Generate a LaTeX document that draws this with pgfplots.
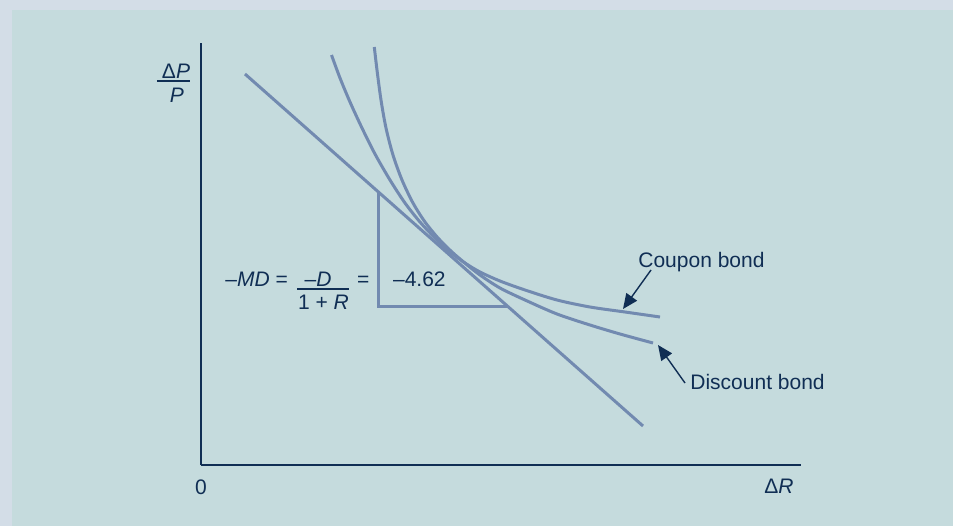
\documentclass[border=0pt]{standalone}
\usepackage{pgfplots}
\pgfplotsset{compat=1.18}
\usepackage{fontspec}
\setmainfont{Liberation Sans}
\usetikzlibrary{arrows.meta}
\definecolor{outerbg}{RGB}{211,221,231}
\definecolor{panel}{RGB}{197,219,221}
\definecolor{navy}{RGB}{16,46,84}
\definecolor{curve}{RGB}{114,138,176}
\tikzset{lbl/.style={font=\fontsize{10.5}{12}\selectfont, text=navy, inner sep=0pt}}

\begin{document}
\begin{tikzpicture}
  % background panels (1 px = 0.5pt, axis origin at px (201,465))
  \fill[outerbg] (-100.5pt,-30.5pt) rectangle (376pt,232.5pt);
  \fill[panel] (-94.5pt,-30.5pt) rectangle (376pt,227.5pt);
  \begin{axis}[
      x=0.5pt, y=0.5pt,
      xmin=0, xmax=600, ymin=0, ymax=422,
      enlargelimits=false,
      axis lines*=left,
      axis line style={navy, line width=0.9pt},
      xtick=\empty, ytick=\empty,
      clip=false,
    ]
    % tangent line
    \addplot[curve, line width=1.5pt] coordinates {(44,391) (442,39)};
    % coupon bond
    \addplot[curve, line width=1.5pt, smooth] coordinates {
      (130.5,410) (139,387) (149,363) (161,337) (174,311) (189,285)
      (204,262) (219,243) (234,227) (249,213) (264,202) (279,193)
      (299,184) (324,175) (356,165) (389,158) (424,153) (459,148)};
    % discount bond
    \addplot[curve, line width=1.5pt, smooth] coordinates {
      (173.3,418) (176,395) (180,365) (185,337) (192,310) (201,285)
      (212,262) (224,243) (237,227) (251,213) (265,201) (279,190)
      (299,177) (324,165) (356,151) (389,140) (419,131) (452,122)};
    % slope triangle
    \addplot[curve, line width=1.5pt] coordinates {(177,272) (177,159) (306,159)};

    % axis labels
    \node[lbl, anchor=base] at (0,-29) {0};
    \node[lbl, anchor=base] at (578,-28.3) {Δ\textit{R}};
    \node[lbl, anchor=base] at (-25,386.3) {Δ\textit{P}};
    \draw[navy, line width=1pt] (-44,383.7) -- (-11,383.7);
    \node[lbl, anchor=base] at (-24,362.7) {\textit{P}};

    % formula
    \node[lbl, anchor=base west] at (24,179) {–\textit{MD} =};
    \node[lbl, anchor=base] at (117,179) {–\textit{D}};
    \draw[navy, line width=0.9pt] (96,175.7) -- (148,175.7);
    \node[lbl, anchor=base] at (122.5,155.7) {1 + \textit{R}};
    \node[lbl, anchor=base west] at (155.7,179) {=};
    \node[lbl, anchor=base west] at (191.7,179) {–4.62};

    % annotations
    \node[lbl, anchor=base west] at (437,198) {Coupon bond};
    \draw[navy, line width=0.7pt, -{Triangle[length=7.5pt,width=6.5pt]}] (450,195) -- (422,156);
    \node[lbl, anchor=base west] at (489,76) {Discount bond};
    \draw[navy, line width=0.7pt, -{Triangle[length=7.5pt,width=6.5pt]}] (484,82) -- (457,120);
  \end{axis}
\end{tikzpicture}
\end{document}
